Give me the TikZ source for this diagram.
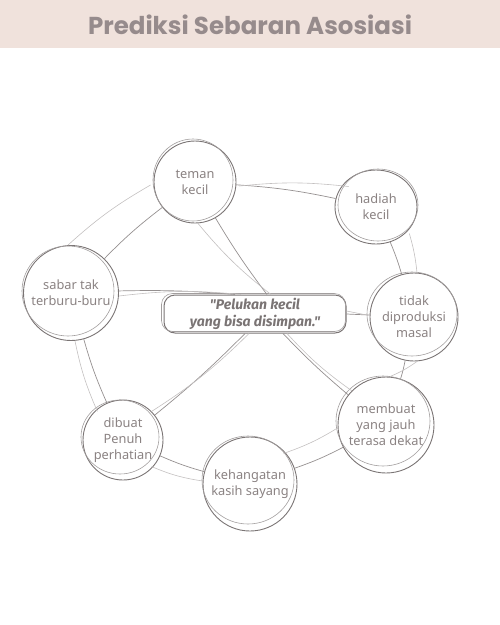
\documentclass[tikz,border=0pt]{standalone}
\usepackage{fontspec}
\usetikzlibrary{shapes.geometric}
\setmainfont{Noto Sans}
\newfontfamily\titlefont{Poppins}
\newfontfamily\cfont{Fira Sans}
\begin{document}
\begin{tikzpicture}[x=1pt,y=-1pt,
  bub/.style={circle,draw=inkc,line width=0.9pt,align=center,text=txtc,font=\fontsize{12.8}{16}\selectfont,inner sep=0pt},
  sk/.style={draw=inkc!70,line width=0.6pt},
  con/.style={draw=inkc!80,line width=0.7pt},
  con2/.style={draw=inkc!45,line width=0.6pt}]
\definecolor{inkc}{HTML}{7A7474}
\definecolor{txtc}{HTML}{8A8282}
\definecolor{bandc}{HTML}{F0E2DC}
\definecolor{titc}{HTML}{968B8C}
\useasboundingbox (0,0) rectangle (500,625);
\fill[bandc] (0,0) rectangle (500,48);
\node[text=titc,font=\titlefont\bfseries\fontsize{24.5}{28}\selectfont] (title) at (250,25) {Prediksi Sebaran Asosiasi};

% nodes
\node[bub,minimum size=82pt] (tm) at (195,182) {teman\\kecil};
\node[bub,ellipse,minimum width=82pt,minimum height=74pt] (hd) at (376,207) {hadiah\\kecil};
\node[bub,minimum size=95pt] (sb) at (71,293) {sabar tak\\terburu-buru};
\node[bub,minimum size=88pt] (td) at (414,317) {tidak\\diproduksi\\masal};
\node[bub,minimum size=96pt] (mb) at (386,425) {membuat\\yang jauh\\terasa dekat};
\node[bub,minimum size=80pt] (db) at (123,440) {dibuat\\Penuh\\perhatian};
\node[bub,minimum size=94pt] (kh) at (250,484) {kehangatan\\kasih sayang};
\node[draw=inkc,line width=1pt,rounded corners=11pt,minimum width=182pt,minimum height=38pt,align=center,text=inkc,font=\cfont\bfseries\itshape\fontsize{14}{16.5}\selectfont] (c) at (255,314) {"Pelukan kecil\\yang bisa disimpan."};

% sketch strokes
\draw[sk] ([shift={(-2,-2)}]tm.center) ellipse (40 and 41);
\draw[sk] ([shift={(2,-2)}]hd.center) ellipse (40 and 36);
\draw[sk] ([shift={(-3,-2)}]sb.center) ellipse (46 and 45);
\draw[sk] ([shift={(-2,-3)}]td.center) ellipse (45 and 42);
\draw[sk] ([shift={(-3,-4)}]mb.center) ellipse (47 and 45);
\draw[sk] ([shift={(-3,-3)}]db.center) ellipse (39 and 37);
\draw[sk] ([shift={(-2,-4)}]kh.center) ellipse (46 and 44);
\draw[sk,rounded corners=11pt] ([shift={(-2,-2)}]c.south west) rectangle ([shift={(-1,-1)}]c.north east);

% outer ring
\draw[con] (tm) to[bend left=4] (hd);
\draw[con2] ([shift={(3,4)}]tm.east) to[bend left=6] ([shift={(2,6)}]hd.north west);
\draw[con] (hd) to[bend left=3] (td);
\draw[con2] ([shift={(4,0)}]hd.south east) to[bend left=5] ([shift={(3,0)}]td.north);
\draw[con] (td) to[bend left=3] (mb);
\draw[con2] ([shift={(3,0)}]td.south) to[bend left=6] ([shift={(4,0)}]mb.north);
\draw[con] (mb) to[bend left=4] (kh);
\draw[con2] ([shift={(0,3)}]mb.west) to[bend left=6] ([shift={(0,3)}]kh.north east);
\draw[con] (kh) to[bend left=4] (db);
\draw[con2] ([shift={(0,-3)}]kh.west) to[bend left=7] ([shift={(0,-2)}]db.south east);
\draw[con] (db) to[bend left=4] (sb);
\draw[con2] ([shift={(3,0)}]db.north west) to[bend left=6] ([shift={(4,0)}]sb.south);
\draw[con] (sb) to[bend left=4] (tm);
\draw[con2] ([shift={(-3,0)}]sb.north) to[bend left=6] ([shift={(-3,3)}]tm.west);

% spokes
\draw[con] ([xshift=12]c.north) to[bend left=3] (tm);
\draw[con2] ([xshift=16]c.north) to[bend left=6] ([shift={(3,0)}]tm.south);
\draw[con] ([xshift=-20]c.north) to[bend right=3] (sb);
\draw[con2] ([xshift=-14]c.north) to[bend right=6] ([shift={(0,3)}]sb.east);
\draw[con] (c.east) -- (td);
\draw[con2] ([shift={(0,-3)}]c.east) -- ([shift={(-3,-2)}]td.west);
\draw[con] ([xshift=28]c.south) to[bend right=3] (mb);
\draw[con2] ([xshift=32]c.south) to[bend right=6] (mb.north west);
\draw[con] ([xshift=-10]c.south) to[bend left=3] (db);
\draw[con2] ([xshift=-6]c.south) to[bend left=6] (db.north east);
\end{tikzpicture}
\end{document}
